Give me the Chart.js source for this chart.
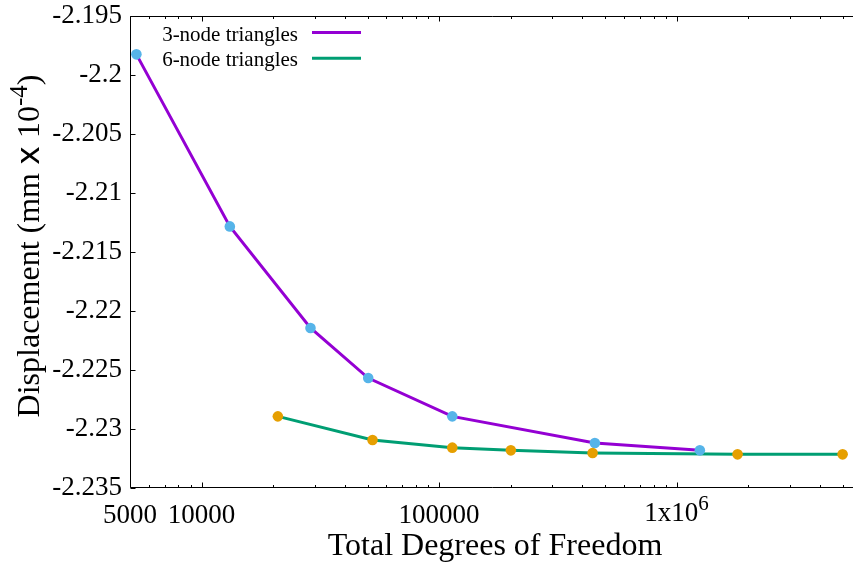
<!DOCTYPE html>
<html lang="en">

<head>
  <meta charset="UTF-8">
  <title>Displacement vs Degrees of Freedom</title>
  <script src="https://cdn.jsdelivr.net/npm/chart.js"></script>
  <style>
    html, body { margin: 0; padding: 0; background: #fff; }
  </style>
</head>

<body>
  <canvas id="chart" width="853" height="565"></canvas>

  <script>
    // 3-node triangle meshes
    const dofs3 = [5320, 13160, 28760, 50330, 113700, 452900, 1253000];
    const disp3 = [-2.19825, -2.21283, -2.22144, -2.22568, -2.22893, -2.23119, -2.23181];

    // 6-node triangle meshes
    const dofs6 = [20960, 52480, 113700, 200600, 443000, 1806000, 5000000];
    const disp6 = [-2.22893, -2.23093, -2.23158, -2.23181, -2.23203, -2.23215, -2.23215];

    const xMajor = [5000, 10000, 100000, 1000000];
    const xLabels = [['5000'], ['10000'], ['100000'], ['1x10', '6']];
    const yTicks = [-2.235, -2.23, -2.225, -2.22, -2.215, -2.21, -2.205, -2.2, -2.195];

    const seriesNames = ['3-node triangles', '6-node triangles'];
    const lineColors = ['#9400d3', '#009e73'];
    const pointColors = ['#56b4e9', '#e69f00'];

    const X_MIN = 5000, X_MAX = 5.53e6;
    const SERIF = 'Liberation Serif';

    // minor ticks 2..9 per decade on the log axis
    const xMinor = [];
    for (let dec = 1000; dec <= 1e6; dec *= 10) {
      for (let m = 2; m <= 9; m++) {
        const v = m * dec;
        if (v > X_MIN && v < X_MAX && !xMajor.includes(v)) xMinor.push(v);
      }
    }

    const pts = (xs, ys) => xs.map((x, i) => ({ x: x, y: ys[i] }));

    // gnuplot-style frame, inward ticks, labels, titles and key
    const decorations = {
      id: 'decorations',
      afterDraw(chart) {
        const ctx = chart.ctx;
        const area = chart.chartArea;
        const xs = chart.scales.x, ys = chart.scales.y;
        const L = Math.round(area.left) + 0.5;
        const T = Math.round(area.top) + 0.5;
        const B = Math.round(area.bottom) - 0.5;
        const R = chart.width + 2;

        ctx.save();
        ctx.strokeStyle = '#000';
        ctx.lineWidth = 1;
        ctx.beginPath();
        ctx.moveTo(R, T); ctx.lineTo(L, T); ctx.lineTo(L, B); ctx.lineTo(R, B);
        ctx.stroke();

        // x ticks on bottom and top border
        ctx.beginPath();
        const xtick = (v, len) => {
          const px = Math.round(xs.getPixelForValue(v)) + 0.5;
          ctx.moveTo(px, B); ctx.lineTo(px, B - len);
          ctx.moveTo(px, T); ctx.lineTo(px, T + len);
        };
        xMajor.forEach(v => xtick(v, 5));
        xMinor.forEach(v => xtick(v, 2.5));
        // y ticks on the left border
        yTicks.forEach(v => {
          const py = Math.round(ys.getPixelForValue(v)) + 0.5;
          ctx.moveTo(L, py); ctx.lineTo(L + 5, py);
        });
        ctx.stroke();

        // x tick labels, with superscript part where given
        ctx.fillStyle = '#000';
        ctx.textBaseline = 'alphabetic';
        ctx.textAlign = 'left';
        xMajor.forEach((v, i) => {
          const [main, sup] = xLabels[i];
          const px = xs.getPixelForValue(v);
          ctx.font = '27px "' + SERIF + '"';
          const wMain = ctx.measureText(main).width;
          let wSup = 0;
          if (sup) {
            ctx.font = '21px "' + SERIF + '"';
            wSup = ctx.measureText(sup).width;
          }
          const x0 = px - (wMain + wSup) / 2;
          ctx.font = '27px "' + SERIF + '"';
          ctx.fillText(main, x0, sup ? 520.5 : 523);
          if (sup) {
            ctx.font = '21px "' + SERIF + '"';
            ctx.fillText(sup, x0 + wMain, 510);
          }
        });

        // x axis title
        ctx.font = '32px "' + SERIF + '"';
        ctx.textAlign = 'center';
        ctx.fillText('Total Degrees of Freedom', 495, 555);

        // y axis title, rotated, built from pieces
        const parts = [
          { t: 'Displacement (mm ', f: '32px "' + SERIF + '"', dy: 0 },
          { t: 'x', f: '32px "DejaVu Sans"', dy: 0 },
          { t: ' 10', f: '32px "' + SERIF + '"', dy: 0 },
          { t: '-4', f: '25px "' + SERIF + '"', dy: -12 },
          { t: ')', f: '32px "' + SERIF + '"', dy: 0 }
        ];
        ctx.textAlign = 'left';
        let total = 0;
        parts.forEach(p => { ctx.font = p.f; p.w = ctx.measureText(p.t).width; total += p.w; });
        ctx.save();
        ctx.translate(38.5, 246);
        ctx.rotate(-Math.PI / 2);
        let cx = -total / 2;
        parts.forEach(p => {
          ctx.font = p.f;
          ctx.fillText(p.t, cx, p.dy);
          cx += p.w;
        });
        ctx.restore();

        // key: text right-aligned, line sample to its right
        ctx.font = '21px "' + SERIF + '"';
        ctx.textAlign = 'right';
        const keyText = [40.5, 65.7];
        const keyLine = [32.5, 58.3];
        seriesNames.forEach((name, i) => {
          ctx.fillStyle = '#000';
          ctx.fillText(name, 298, keyText[i]);
          ctx.strokeStyle = lineColors[i];
          ctx.lineWidth = 3;
          ctx.beginPath();
          ctx.moveTo(312, keyLine[i]);
          ctx.lineTo(361, keyLine[i]);
          ctx.stroke();
        });
        ctx.restore();
      }
    };

    const lineSet = (i, xsArr, ysArr, order) => ({
      label: seriesNames[i],
      data: pts(xsArr, ysArr),
      borderColor: lineColors[i],
      borderWidth: 3,
      pointRadius: 0,
      fill: false,
      tension: 0,
      order: order
    });
    const pointSet = (i, xsArr, ysArr, order) => ({
      label: seriesNames[i] + ' points',
      data: pts(xsArr, ysArr),
      showLine: false,
      pointRadius: 5.3,
      pointBorderWidth: 0,
      pointBackgroundColor: pointColors[i],
      pointBorderColor: pointColors[i],
      order: order
    });

    new Chart(document.getElementById('chart').getContext('2d'), {
      type: 'line',
      data: {
        datasets: [
          lineSet(0, dofs3, disp3, 4),
          lineSet(1, dofs6, disp6, 3),
          pointSet(0, dofs3, disp3, 2),
          pointSet(1, dofs6, disp6, 1)
        ]
      },
      options: {
        responsive: false,
        animation: false,
        devicePixelRatio: 1,
        layout: { autoPadding: false, padding: { top: 16, right: 0, left: 0, bottom: 0 } },
        plugins: {
          legend: { display: false },
          tooltip: { enabled: false }
        },
        scales: {
          x: {
            type: 'logarithmic',
            min: X_MIN,
            max: X_MAX,
            grid: { display: false, drawTicks: false },
            border: { display: false },
            ticks: { display: false },
            afterBuildTicks: s => { s.ticks = xMajor.map(v => ({ value: v })); },
            afterFit: s => { s.height = 77; s.paddingLeft = 0; s.paddingRight = 0; }
          },
          y: {
            type: 'linear',
            min: -2.235,
            max: -2.195,
            grid: { display: false, drawTicks: false },
            border: { display: false },
            afterBuildTicks: s => { s.ticks = yTicks.map(v => ({ value: v })); },
            afterFit: s => { s.width = 130; s.paddingTop = 0; s.paddingBottom = 0; },
            ticks: {
              autoSkip: false,
              padding: 8,
              color: '#000',
              font: { family: SERIF, size: 27 },
              callback: v => String(v)
            }
          }
        }
      },
      plugins: [decorations]
    });
  </script>
</body>

</html>
